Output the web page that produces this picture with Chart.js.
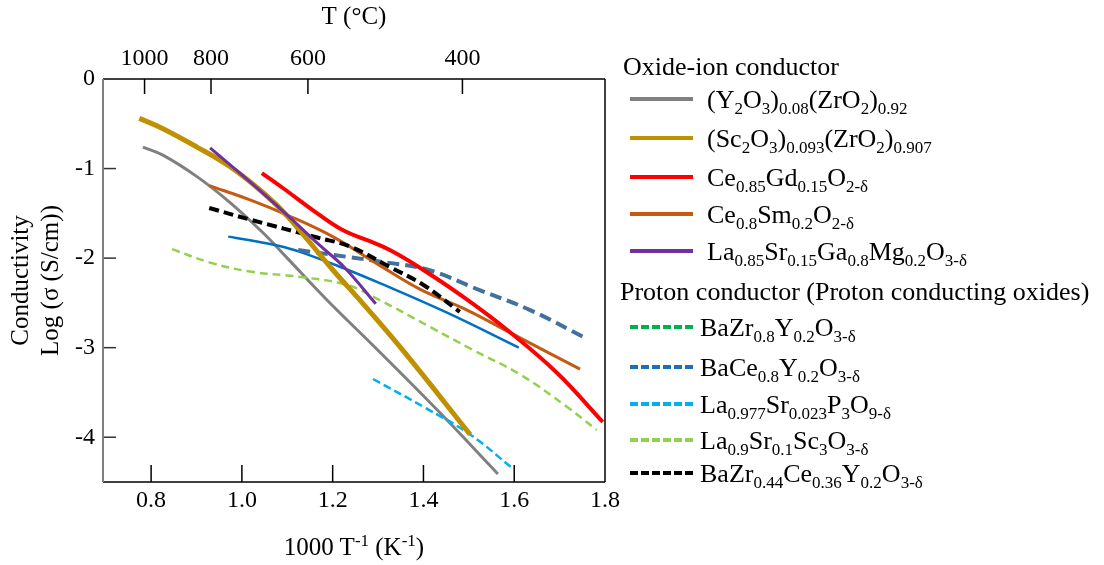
<!DOCTYPE html>
<html>
<head>
<meta charset="utf-8">
<script src="https://cdn.jsdelivr.net/npm/chart.js@4.4.1/dist/chart.umd.min.js"></script>
<style>
  body { margin: 0; background: #fff; }
  #wrap { position: relative; width: 1104px; height: 565px; font-family: "Liberation Serif", "Times New Roman", serif; color: #000; }
  canvas { position: absolute; left: 0; top: 0; }
  .lg { position: absolute; font-size: 26px; line-height: 30px; white-space: nowrap; }
  .lg sub, .xt sup { font-size: 17px; line-height: 0; }
  .lg sub { vertical-align: -6px; }
  .xt sup { vertical-align: 9px; }
  .sw { position: absolute; width: 63px; height: 0; }
  .xt { position: absolute; left: 234px; width: 240px; top: 532px; text-align: center; font-size: 25px; line-height: 30px; }
</style>
</head>
<body>
<div id="wrap">
  <canvas id="myChart" width="1104" height="565"></canvas>
  <div class="xt">1000 T<sup>-1</sup> (K<sup>-1</sup>)</div>
  <div id="legend"></div>
</div>
<script>
// axis ticks
const xTicks = [0.8, 1.0, 1.2, 1.4, 1.6, 1.8];
const yTicks = [0, -1, -2, -3, -4];
const tempTicks = [1000, 800, 600, 400]; // deg C on top axis

// series (x = 1000/T, y = log sigma)
const yszX = [0.782, 0.826, 0.901, 0.974, 1.047, 1.10, 1.188, 1.298, 1.437, 1.564];
const yszY = [-0.76, -0.85, -1.09, -1.38, -1.72, -2.0, -2.47, -3.02, -3.73, -4.41];
const sszX = [0.774, 0.824, 0.901, 0.974, 1.047, 1.10, 1.20, 1.26, 1.353, 1.503];
const sszY = [-0.44, -0.55, -0.76, -0.98, -1.27, -1.53, -2.13, -2.47, -3.02, -3.97];
const gdcX = [1.044, 1.091, 1.166, 1.223, 1.276, 1.326, 1.393, 1.487, 1.584, 1.694, 1.795];
const gdcY = [-1.05, -1.22, -1.50, -1.69, -1.80, -1.91, -2.11, -2.43, -2.80, -3.28, -3.83];
const sdcX = [0.928, 1.018, 1.10, 1.20, 1.30, 1.393, 1.496, 1.59, 1.745];
const sdcY = [-1.19, -1.35, -1.52, -1.76, -2.07, -2.35, -2.58, -2.83, -3.24];
const lsgmX = [0.93, 1.018, 1.10, 1.17, 1.227, 1.295];
const lsgmY = [-0.77, -1.15, -1.52, -1.85, -2.11, -2.51];
const bzyX = [0.97, 1.018, 1.078, 1.128, 1.223, 1.304, 1.452, 1.61];
const bzyY = [-1.76, -1.80, -1.86, -1.93, -2.11, -2.28, -2.61, -3.0];
const bcyX = [1.124, 1.238, 1.32, 1.41, 1.525, 1.635, 1.756];
const bcyY = [-1.91, -1.99, -2.05, -2.13, -2.36, -2.58, -2.89];
const lspX = [1.289, 1.40, 1.503, 1.597];
const lspY = [-3.35, -3.66, -3.97, -4.35];
const lssX = [0.846, 0.93, 1.018, 1.128, 1.232, 1.304, 1.415, 1.507, 1.613, 1.716, 1.782];
const lssY = [-1.90, -2.05, -2.15, -2.21, -2.30, -2.47, -2.77, -3.02, -3.30, -3.66, -3.92];
const bzcyX = [0.928, 1.018, 1.166, 1.238, 1.326, 1.40, 1.48];
const bzcyY = [-1.44, -1.57, -1.77, -1.87, -2.10, -2.30, -2.60];

// legend
const oxideLabels = [
  '(Y<sub>2</sub>O<sub>3</sub>)<sub>0.08</sub>(ZrO<sub>2</sub>)<sub>0.92</sub>',
  '(Sc<sub>2</sub>O<sub>3</sub>)<sub>0.093</sub>(ZrO<sub>2</sub>)<sub>0.907</sub>',
  'Ce<sub>0.85</sub>Gd<sub>0.15</sub>O<sub>2-δ</sub>',
  'Ce<sub>0.8</sub>Sm<sub>0.2</sub>O<sub>2-δ</sub>',
  'La<sub>0.85</sub>Sr<sub>0.15</sub>Ga<sub>0.8</sub>Mg<sub>0.2</sub>O<sub>3-δ</sub>'
];
const oxideColors = ['#808080', '#BF9000', '#FF0000', '#C55A11', '#7030A0'];
const protonLabels = [
  'BaZr<sub>0.8</sub>Y<sub>0.2</sub>O<sub>3-δ</sub>',
  'BaCe<sub>0.8</sub>Y<sub>0.2</sub>O<sub>3-δ</sub>',
  'La<sub>0.977</sub>Sr<sub>0.023</sub>P<sub>3</sub>O<sub>9-δ</sub>',
  'La<sub>0.9</sub>Sr<sub>0.1</sub>Sc<sub>3</sub>O<sub>3-δ</sub>',
  'BaZr<sub>0.44</sub>Ce<sub>0.36</sub>Y<sub>0.2</sub>O<sub>3-δ</sub>'
];
const protonColors = ['#00B050', '#1F6FB8', '#00B0F0', '#92D050', '#000000'];

const pts = (xs, ys) => xs.map((x, i) => ({ x: x, y: ys[i] }));

function series(label, xs, ys, color, width, dash) {
  return {
    label: label,
    data: pts(xs, ys),
    borderColor: color,
    borderWidth: width,
    borderDash: dash || [],
    pointRadius: 0,
    fill: false,
    tension: 0.4,
    xAxisID: 'x',
    yAxisID: 'y'
  };
}

// first dataset ends up on top
const datasets = [
  series('LSGM', lsgmX, lsgmY, '#7030A0', 3),
  series('GDC', gdcX, gdcY, '#FF0000', 4),
  series('SSZ', sszX, sszY, '#BF9000', 5),
  series('BZCY', bzcyX, bzcyY, '#000000', 4, [10, 5]),
  series('SDC', sdcX, sdcY, '#C55A11', 3),
  series('BCY', bcyX, bcyY, '#41719C', 4, [12, 6]),
  series('LSP', lspX, lspY, '#00B0F0', 2.5, [8, 4]),
  series('LSS', lssX, lssY, '#92D050', 2.5, [8, 5]),
  series('BZY', bzyX, bzyY, '#0070C0', 2.5),
  series('YSZ', yszX, yszY, '#808080', 3)
];

// inward ticks and the box round the plot
const framePlugin = {
  id: 'frame',
  afterDatasetsDraw(chart) {
    const { ctx, chartArea: a, scales } = chart;
    ctx.save();
    const line = (x1, y1, x2, y2) => { ctx.beginPath(); ctx.moveTo(x1, y1); ctx.lineTo(x2, y2); ctx.stroke(); };
    ctx.strokeStyle = '#000';
    ctx.lineWidth = 1.5;
    scales.x.ticks.forEach(t => {
      const px = scales.x.getPixelForValue(t.value);
      if (px < a.right - 3) line(px, a.bottom, px, a.bottom - 17);
    });
    scales.x2.ticks.forEach(t => {
      const px = scales.x2.getPixelForValue(t.value);
      line(px, a.top, px, a.top + 15);
    });
    ctx.strokeStyle = '#333';
    scales.y.ticks.forEach(t => {
      const py = scales.y.getPixelForValue(t.value);
      if (py > a.top + 3) line(a.left, py, a.left + 13, py);
    });
    ctx.strokeStyle = '#000';
    line(a.left, a.top, a.right, a.top);
    line(a.right, a.top, a.right, a.bottom);
    line(a.left, a.bottom, a.right, a.bottom);
    ctx.strokeStyle = '#7f7f7f';
    ctx.lineWidth = 2;
    line(a.left, a.top, a.left, a.bottom);
    ctx.restore();
  }
};

const serif = '"Liberation Serif", "Times New Roman", serif';

new Chart(document.getElementById('myChart').getContext('2d'), {
  type: 'line',
  data: { datasets: datasets },
  options: {
    responsive: false,
    animation: false,
    layout: { padding: { left: 0, right: 499, top: 0, bottom: 0 } },
    plugins: { legend: { display: false }, tooltip: { enabled: false } },
    scales: {
      x: {
        type: 'linear',
        position: 'bottom',
        min: 0.694,
        max: 1.8,
        afterBuildTicks: s => { s.ticks = xTicks.map(v => ({ value: v })); },
        afterFit: s => { s.height = 83; },
        grid: { display: false, drawTicks: false },
        border: { display: false },
        ticks: { color: '#000', padding: 4, font: { family: serif, size: 24 }, callback: v => v.toFixed(1), maxRotation: 0, autoSkip: false }
      },
      x2: {
        type: 'linear',
        position: 'top',
        min: 0.694,
        max: 1.8,
        afterBuildTicks: s => { s.ticks = tempTicks.map(t => ({ value: 1000 / (t + 273) })); },
        afterFit: s => { s.height = 79; },
        grid: { display: false, drawTicks: false },
        border: { display: false },
        ticks: { color: '#000', padding: 6, font: { family: serif, size: 24 }, callback: v => String(Math.round(1000 / v - 273)), maxRotation: 0, autoSkip: false },
        title: { display: true, text: 'T (°C)', color: '#000', font: { family: serif, size: 25 }, padding: { top: 2, bottom: 0 } }
      },
      y: {
        type: 'linear',
        min: -4.5,
        max: 0,
        afterBuildTicks: s => { s.ticks = yTicks.map(v => ({ value: v })); },
        afterFit: s => { s.width = 103; },
        grid: { display: false, drawTicks: false },
        border: { display: false },
        ticks: { color: '#000', padding: 8, font: { family: serif, size: 24 }, autoSkip: false },
        title: { display: true, text: ['Conductivity', 'Log (σ (S/cm))'], color: '#000', font: { family: serif, size: 25 }, padding: { top: 6, bottom: 0 } }
      }
    }
  },
  plugins: [framePlugin]
});

// legend built from the arrays above
const legend = document.getElementById('legend');
function addHeader(text, left, top) {
  const d = document.createElement('div');
  d.className = 'lg';
  d.style.left = left + 'px';
  d.style.top = top + 'px';
  d.textContent = text;
  legend.appendChild(d);
}
function addEntry(html, color, dashed, lineY, textLeft) {
  const sw = document.createElement('div');
  sw.className = 'sw';
  sw.style.left = '630px';
  sw.style.top = (lineY - 2) + 'px';
  sw.style.borderTop = '4px ' + (dashed ? 'dashed ' : 'solid ') + color;
  legend.appendChild(sw);
  const d = document.createElement('div');
  d.className = 'lg';
  d.style.left = textLeft + 'px';
  d.style.top = (lineY - 14) + 'px';
  d.innerHTML = html;
  legend.appendChild(d);
}
addHeader('Oxide-ion conductor', 623, 52);
const oxideY = [99, 138, 177, 214, 251];
oxideLabels.forEach((l, i) => addEntry(l, oxideColors[i], false, oxideY[i], 707));
addHeader('Proton conductor (Proton conducting oxides)', 620, 277);
const protonY = [327, 367, 404, 440, 473];
protonLabels.forEach((l, i) => addEntry(l, protonColors[i], true, protonY[i], 700));
</script>
</body>
</html>
